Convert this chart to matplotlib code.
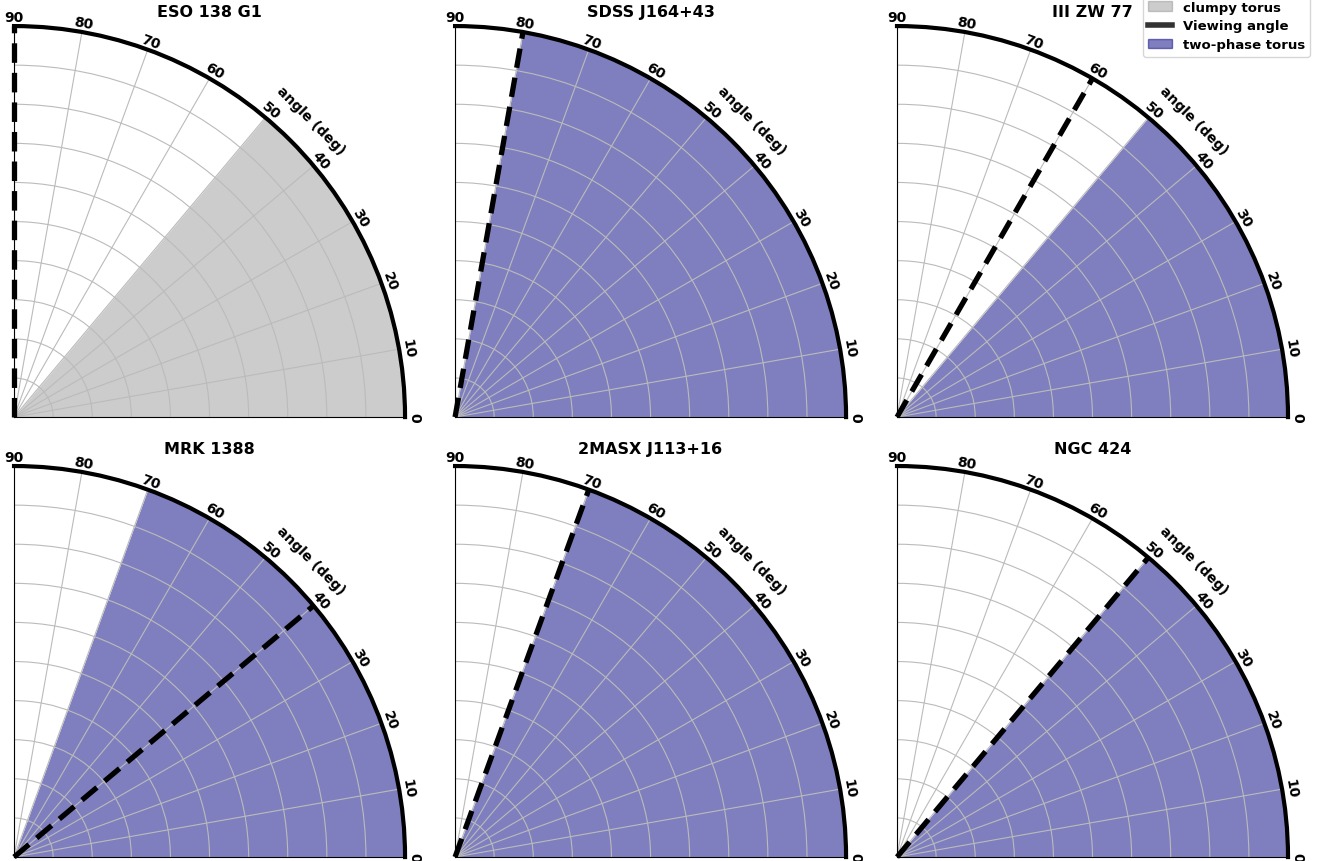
import numpy as np
import matplotlib
matplotlib.use("Agg")
import matplotlib.pyplot as plt
from matplotlib.patches import Patch
from matplotlib.lines import Line2D

names = ["ESO 138 G1", "SDSS J164+43", "III ZW 77",
         "MRK 1388", "2MASX J113+16", "NGC 424"]
torus_type = ["clumpy", "two-phase", "two-phase",
              "two-phase", "two-phase", "two-phase"]
torus_angle = [50, 80, 50, 70, 70, 50]
view_angle = [90, 80, 60, 40, 70, 50]

colors = {"clumpy": (0.5, 0.5, 0.5, 0.4), "two-phase": (0.0, 0.0, 0.5, 0.5)}

fig = plt.figure(figsize=(13.22, 8.62), dpi=100)

lefts = [0.0106, 0.3442, 0.6785]
bottoms = [0.515, 0.0046]
title_y = [0.986, 0.479]
w, h = 0.2958, 0.4536

for i, name in enumerate(names):
    row, col = divmod(i, 3)
    ax = fig.add_axes([lefts[col], bottoms[row], w, h], projection="polar")
    ax.set_thetamin(0)
    ax.set_thetamax(90)
    ax.set_ylim(0, 1)
    ax.set_yticks(np.arange(0.1, 1.01, 0.1))
    ax.set_yticklabels([])
    ax.set_xticks(np.radians(np.arange(0, 91, 10)))
    ax.set_xticklabels([str(d) for d in range(0, 91, 10)],
                       fontweight="bold", fontsize=10)
    ax.tick_params(axis="x", labelrotation="auto", pad=-4)
    ax.grid(color="#bbbbbb", lw=0.8)
    ax.spines["polar"].set_linewidth(3)
    ax.spines["start"].set_visible(False)
    ax.spines["end"].set_visible(False)

    th = np.linspace(0, np.radians(torus_angle[i]), 200)
    ax.fill_between(th, 0, 1, color=colors[torus_type[i]], lw=0)
    v = np.radians(view_angle[i])
    ax.plot([v, v], [0, 1], color="k", lw=3.8, dashes=(3.7, 1.9),
            clip_on=False, zorder=3)

    ax.text(np.radians(45), 1.075, "angle (deg)", rotation=-45,
            ha="center", va="center", fontweight="bold", fontsize=10)
    fig.text(lefts[col] + w / 2, title_y[row], name, ha="center",
             va="center", fontweight="bold", fontsize=11.5)

handles = [Patch(color=colors["clumpy"], label="clumpy torus"),
           Line2D([], [], color="#333333", lw=4, label="Viewing angle"),
           Patch(color=colors["two-phase"], label="two-phase torus")]
fig.legend(handles=handles, loc="upper right", bbox_to_anchor=(0.996, 1.012),
           prop={"weight": "bold", "size": 9.5}, handlelength=1.8,
           labelspacing=0.45)

fig.savefig("out.png", dpi=100)
